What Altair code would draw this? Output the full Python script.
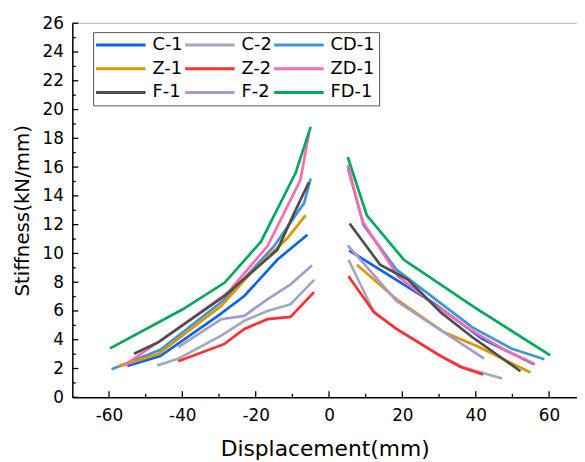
import altair as alt
import pandas as pd

series = ["C-1", "C-2", "CD-1", "Z-1", "Z-2", "ZD-1", "F-1", "F-2", "FD-1"]
colors = ["#0a64e6", "#a2a9bb", "#3d96d6", "#dc9600", "#ff3030", "#ff69b4", "#4d4d4d", "#a39bd2", "#00a85a"]

C1_x = [-55.0, -46.0, -30.3, -23.1, -14.1, -5.9, 5.5, 28.3, 41.8, 56.0]
C1_y = [2.18, 2.87, 5.66, 7.04, 9.56, 11.3, 10.2, 6.58, 4.06, 2.29]
C2_x = [-46.9, -41.1, -29.4, -23.1, -16.8, -10.5, -4.0, 5.3, 12.1, 18.4, 31.0, 36.4, 47.2]
C2_y = [2.22, 2.68, 4.29, 5.32, 6.0, 6.47, 8.18, 9.56, 6.0, 4.75, 2.8, 2.11, 1.31]
CD1_x = [-59.3, -46.0, -28.5, -15.0, -6.8, -5.0, 5.1, 9.4, 18.4, 39.1, 49.9, 58.7]
CD1_y = [1.95, 3.3, 6.8, 10.5, 13.5, 15.2, 16.0, 11.97, 8.87, 4.86, 3.37, 2.64]
Z1_x = [-57.3, -46.5, -29.4, -21.3, -11.4, -6.4, 7.6, 18.4, 31.4, 40.9, 54.9]
Z1_y = [2.15, 3.0, 6.35, 8.64, 11.05, 12.65, 9.22, 6.81, 4.52, 3.49, 1.72]
Z2_x = [-41.1, -28.5, -23.1, -16.8, -10.5, -4.1, 5.3, 12.3, 18.4, 30.1, 35.9, 42.0]
Z2_y = [2.5, 3.71, 4.75, 5.43, 5.59, 7.31, 8.41, 5.89, 4.75, 2.91, 2.11, 1.58]
ZD1_x = [-55.9, -45.6, -27.6, -16.8, -7.8, -5.5, 5.1, 9.2, 18.8, 29.2, 38.2, 48.1, 56.0]
ZD1_y = [2.22, 4.0, 7.27, 10.5, 15.1, 18.3, 16.16, 12.2, 8.41, 6.35, 4.75, 3.26, 2.34]
F1_x = [-53.2, -46.5, -28.5, -14.1, -9.5, -5.5, 5.6, 13.9, 21.5, 30.5, 39.1, 52.2]
F1_y = [3.03, 3.83, 7.04, 10.25, 12.8, 14.95, 12.08, 9.22, 8.18, 5.89, 4.17, 1.81]
F2_x = [-41.1, -29.4, -23.1, -16.8, -10.5, -4.6, 5.1, 9.4, 18.4, 26.5, 42.3]
F2_y = [3.49, 5.43, 5.66, 6.81, 7.84, 9.17, 10.55, 9.33, 6.69, 5.32, 2.68]
FD1_x = [-59.7, -40.0, -28.5, -18.6, -9.1, -5.0, 5.1, 10.3, 20.4, 40.0, 60.3]
FD1_y = [3.4, 6.1, 7.96, 10.8, 15.6, 18.8, 16.7, 12.65, 9.56, 6.2, 2.91]

x_major = [-60, -40, -20, 0, 20, 40, 60]
x_minor = [-50, -30, -10, 10, 30, 50]
y_major = list(range(0, 27, 2))
y_minor = list(range(1, 26, 2))

all_x = [C1_x, C2_x, CD1_x, Z1_x, Z2_x, ZD1_x, F1_x, F2_x, FD1_x]
all_y = [C1_y, C2_y, CD1_y, Z1_y, Z2_y, ZD1_y, F1_y, F2_y, FD1_y]

rows = []
for i, (name, xs, ys) in enumerate(zip(series, all_x, all_y)):
    for xv, yv in zip(xs, ys):
        rows.append({"series": name, "x": xv, "y": yv,
                     "branch": name + ("_n" if xv < 0 else "_p")})
df = pd.DataFrame(rows)

W, H = 510, 378
FONT = "DejaVu Sans"
xscale = alt.Scale(domain=[-70, -70 + W / 3.706], nice=False, zero=False)
yscale = alt.Scale(domain=[0, 26], nice=False)

axis_common = dict(tickSize=0, labelFontSize=17, titleFontWeight="normal",
                   labelFont=FONT, titleFont=FONT, labelColor="black", titleColor="black",
                   domainColor="black", domainWidth=1.5, grid=False, labelFlush=False,
                   labelOverlap=False, labelExpr="'' + datum.value")
x_axis = alt.Axis(values=x_major, title="Displacement(mm)", titleFontSize=22,
                  labelPadding=10, titlePadding=16, **axis_common)
y_axis = alt.Axis(values=y_major, title="Stiffness(kN/mm)", titleFontSize=20,
                  labelPadding=9, titlePadding=10, **axis_common)

lines = alt.Chart(df).mark_line(strokeWidth=2.7).encode(
    x=alt.X("x:Q", scale=xscale, axis=x_axis),
    y=alt.Y("y:Q", scale=yscale, axis=y_axis),
    color=alt.Color("series:N", scale=alt.Scale(domain=series, range=colors), sort=series,
                    legend=alt.Legend(title=None, orient="none", legendX=21, legendY=9,
                                      direction="horizontal", columns=3,
                                      symbolType="M-2,0H8", symbolSize=100,
                                      symbolStrokeWidth=3, labelFontSize=18, labelFont=FONT,
                                      labelColor="black", columnPadding=-4, rowPadding=6,
                                      labelOffset=38, padding=4, strokeColor="#555555",
                                      fillColor="white")),
    detail="branch:N",
    order=alt.Order("x:Q"),
)

def tick_x(vals, length):
    return alt.Chart(pd.DataFrame({"v": vals})).mark_rule(color="black", strokeWidth=1.3).encode(
        x=alt.X("v:Q", scale=xscale, axis=x_axis), y=alt.value(H), y2=alt.value(H - length))

def tick_y(vals, length):
    return alt.Chart(pd.DataFrame({"v": vals})).mark_rule(color="black", strokeWidth=1.3).encode(
        y=alt.Y("v:Q", scale=yscale, axis=y_axis), x=alt.value(0), x2=alt.value(length))

top = alt.Chart(pd.DataFrame({"v": [26]})).mark_rule(color="#aab4c8", strokeWidth=1.2).encode(
    y=alt.Y("v:Q", scale=yscale, axis=y_axis), x=alt.value(0), x2=alt.value(W))

chart = alt.layer(lines, top, tick_x(x_major, 6), tick_x(x_minor, 3.5),
                  tick_y(y_major, 6), tick_y(y_minor, 3.5)).properties(
    width=W, height=H,
    autosize=alt.AutoSizeParams(type="none"),
    padding={"left": 65, "top": 13, "right": 0, "bottom": 63},
).configure_view(stroke=None)

chart.save("out.html", embed_options={"renderer": "svg", "actions": False})
